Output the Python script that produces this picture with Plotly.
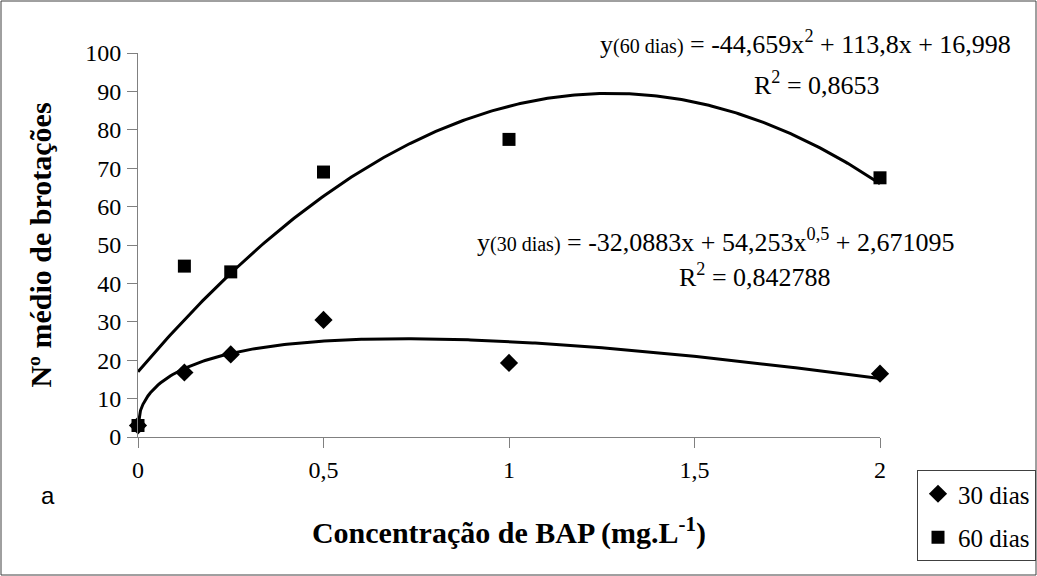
import numpy as np
import plotly.graph_objects as go

# Data
bap = [0, 0.125, 0.25, 0.5, 1, 2]
dias30 = [3.0, 16.8, 21.5, 30.5, 19.3, 16.5]
dias60 = [3.0, 44.5, 43.0, 69.0, 77.5, 67.5]

# Trendline coefficients as printed in the chart
coef60 = [-44.659, 113.8, 16.998]          # a*x^2 + b*x + c
coef30 = [-32.0883, 54.253, 2.671095]      # a*x + b*x^0.5 + c

xticks = [0, 0.5, 1, 1.5, 2]
xticklabels = ["0", "0,5", "1", "1,5", "2"]
yticks = list(range(0, 101, 10))

xs = np.linspace(0, 2, 300)
fit60 = coef60[0] * xs**2 + coef60[1] * xs + coef60[2]
fit30 = coef30[0] * xs + coef30[1] * np.sqrt(xs) + coef30[2]

SERIF = "Liberation Serif"
W, H = 1037, 576
L, R, T, B = 138, 880, 53, 437
PW, PH = R - L, B - T


def px(x):
    return (x - L) / PW


def py(y):
    return (B - y) / PH


fig = go.Figure()
fig.add_trace(go.Scatter(x=xs, y=fit60, mode="lines", line=dict(color="black", width=3),
                         showlegend=False, hoverinfo="skip", cliponaxis=False))
fig.add_trace(go.Scatter(x=xs, y=fit30, mode="lines", line=dict(color="black", width=3),
                         showlegend=False, hoverinfo="skip", cliponaxis=False))
fig.add_trace(go.Scatter(x=bap, y=dias30, mode="markers", name="30 dias", legendgroup="a",
                         marker=dict(symbol="diamond", size=14, color="black"), cliponaxis=False))
fig.add_trace(go.Scatter(x=bap, y=dias60, mode="markers", name="60 dias", legendgroup="b",
                         marker=dict(symbol="square", size=13, color="black"), cliponaxis=False))

fig.update_layout(
    width=W, height=H,
    margin=dict(l=L, r=W - R, t=T, b=H - B, autoexpand=False),
    plot_bgcolor="white", paper_bgcolor="white",
    font=dict(family=SERIF, size=24, color="black"),
    showlegend=True,
    legend=dict(xref="container", yref="container", x=917 / W, y=1 - 470 / H,
                xanchor="left", yanchor="top",
                bordercolor="#404040", borderwidth=1, bgcolor="white",
                font=dict(family="Liberation Serif", size=25, color="black"),
                traceorder="grouped", tracegroupgap=8, itemwidth=30),
    xaxis=dict(range=[0, 2], tickvals=xticks, ticktext=xticklabels,
               showgrid=False, zeroline=False, showline=True, linecolor="#808080", linewidth=1,
               ticks="outside", ticklen=10, tickcolor="#808080", tickfont=dict(size=24),
               ticklabelstandoff=1,
               title=dict(text="<b>Concentração de BAP (mg.L<sup>-1</sup>)</b>", standoff=40,
                          font=dict(size=30))),
    yaxis=dict(range=[0, 100], tickvals=yticks,
               showgrid=False, zeroline=False, showline=True, linecolor="#808080", linewidth=1,
               ticks="outside", ticklen=10, tickcolor="#808080", tickfont=dict(size=24),
               ticklabelstandoff=1,
               title=dict(text="<b>Nº médio de brotações</b>", standoff=24, font=dict(size=30))),
)

eq_font = dict(family=SERIF, size=26, color="black")
fig.add_annotation(xref="paper", yref="paper", x=px(805), y=py(43),
                   text="y<span style='font-size:20px'>(60 dias)</span> = -44,659x<sup>2</sup> + 113,8x + 16,998",
                   showarrow=False, font=eq_font, xanchor="center", yanchor="middle")
fig.add_annotation(xref="paper", yref="paper", x=px(817), y=py(83),
                   text="R<sup>2</sup> = 0,8653", showarrow=False, font=eq_font,
                   xanchor="center", yanchor="middle")
fig.add_annotation(xref="paper", yref="paper", x=px(715), y=py(240),
                   text="y<span style='font-size:20px'>(30 dias)</span> = -32,0883x + 54,253x<sup>0,5</sup> + 2,671095",
                   showarrow=False, font=eq_font, xanchor="center", yanchor="middle")
fig.add_annotation(xref="paper", yref="paper", x=px(755), y=py(275),
                   text="R<sup>2</sup> = 0,842788", showarrow=False, font=eq_font,
                   xanchor="center", yanchor="middle")
fig.add_annotation(xref="paper", yref="paper", x=px(48), y=py(495),
                   text="a", showarrow=False,
                   font=dict(family="Liberation Sans, Arial, sans-serif", size=24, color="black"),
                   xanchor="center", yanchor="middle")

# Outer border around whole chart
fig.add_shape(type="rect", xref="paper", yref="paper",
              x0=px(1), x1=px(1036), y0=py(575), y1=py(1),
              line=dict(color="#404040", width=1), fillcolor="rgba(0,0,0,0)", layer="below")

fig.write_html("out.html", config={"displayModeBar": False},
               post_script="document.body.style.margin='0';")
